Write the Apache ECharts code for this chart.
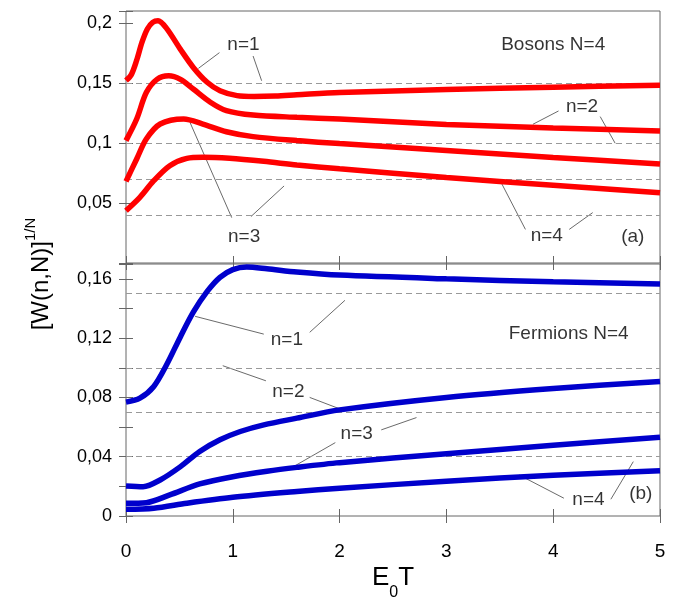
<!DOCTYPE html>
<html>
<head>
<meta charset="utf-8">
<script src="https://cdn.jsdelivr.net/npm/echarts@6/dist/echarts.min.js"></script>
<style>
  html, body { margin: 0; padding: 0; background: #fff; }
  #chart { width: 692px; height: 597px; }
</style>
</head>
<body>
<div id="chart"></div>
<script>
// x ticks (shared)
var xTickValues = [0, 1, 2, 3, 4, 5];
var xTickLabels = ['0', '1', '2', '3', '4', '5'];

// y ticks
var topTickValues = [0.05, 0.1, 0.15, 0.2];
var topTickLabels = ['0,05', '0,1', '0,15', '0,2'];
var bottomTickValues = [0, 0.04, 0.08, 0.12, 0.16];
var bottomTickLabels = ['0', '0,04', '0,08', '0,12', '0,16'];

// (a) bosons, [E0T, W^(1/N)]
var bosonN1 = [[0, 0.152], [0.05, 0.157], [0.1, 0.169], [0.15, 0.184], [0.2, 0.195], [0.25, 0.2005], [0.3, 0.2018], [0.38, 0.1955], [0.51, 0.178], [0.63, 0.163], [0.76, 0.1506], [0.88, 0.1436], [1.04, 0.1395], [1.2, 0.1388], [1.4, 0.1392], [1.6, 0.1402], [2, 0.1421], [3, 0.1445], [4, 0.1465], [5, 0.1482]];
var bosonN2 = [[0, 0.102], [0.1, 0.12], [0.19, 0.142], [0.29, 0.153], [0.4, 0.156], [0.51, 0.153], [0.63, 0.145], [0.79, 0.134], [0.94, 0.127], [1.19, 0.1233], [1.6, 0.1214], [2, 0.120], [3, 0.1155], [4, 0.1125], [5, 0.110]];
var bosonN3 = [[0, 0.068], [0.1, 0.0867], [0.19, 0.1033], [0.32, 0.1158], [0.54, 0.120], [0.72, 0.1158], [0.94, 0.1094], [1.19, 0.1053], [1.6, 0.102], [2, 0.0995], [3, 0.0937], [4, 0.088], [5, 0.0825]];
var bosonN4 = [[0, 0.0436], [0.13, 0.0547], [0.26, 0.0686], [0.41, 0.0811], [0.57, 0.0872], [0.72, 0.0881], [0.97, 0.0872], [1.29, 0.0847], [1.6, 0.0817], [2, 0.0785], [3, 0.0712], [4, 0.0648], [5, 0.0586]];

// (b) fermions
var fermionN1 = [[0, 0.0768], [0.13, 0.0795], [0.26, 0.0874], [0.38, 0.102], [0.51, 0.121], [0.63, 0.1375], [0.76, 0.1515], [0.88, 0.161], [1.0, 0.1662], [1.13, 0.168], [1.32, 0.1668], [1.6, 0.1646], [2, 0.1625], [3, 0.160], [4, 0.158], [5, 0.1565]];
var fermionN2 = [[0, 0.0203], [0.16, 0.0198], [0.32, 0.0243], [0.51, 0.0333], [0.69, 0.0435], [0.88, 0.0514], [1.07, 0.057], [1.29, 0.0615], [1.6, 0.066], [2, 0.0716], [3, 0.080], [4, 0.086], [5, 0.0908]];
var fermionN3 = [[0, 0.0086], [0.19, 0.009], [0.41, 0.0142], [0.69, 0.0216], [1.0, 0.0265], [1.32, 0.0302], [1.6, 0.0328], [2, 0.036], [3, 0.042], [4, 0.0477], [5, 0.0532]];
var fermionN4 = [[0, 0.0045], [0.26, 0.0052], [0.57, 0.0086], [1.0, 0.0126], [1.6, 0.0165], [2, 0.0187], [3, 0.0235], [4, 0.0275], [5, 0.0306]];

// dashed reference levels
var topDashed = [0.15, 0.1, 0.0667, 0.0437];
var bottomDashed = [0.149, 0.1, 0.068, 0.041];

// curve labels and their leader lines (data coords)
var labelTexts = ['n=1', 'n=2', 'n=3', 'n=4'];
var topLabelPos = [[1.10, 0.1817], [4.27, 0.1306], [1.106, 0.022], [3.94, 0.0231]];
var topLeaders = [
  [[0.875, 0.1753], [0.678, 0.1622]], [[1.19, 0.1725], [1.27, 0.1519]],
  [[4.05, 0.1267], [3.81, 0.1156]], [[4.44, 0.122], [4.58, 0.0998]],
  [[0.99, 0.0378], [0.60, 0.117]], [[1.17, 0.0387], [1.48, 0.0642]],
  [[3.74, 0.028], [3.51, 0.0675]], [[4.15, 0.028], [4.37, 0.042]]
];
var bottomLabelPos = [[1.506, 0.1189], [1.52, 0.0836], [2.16, 0.0554], [4.33, 0.0108]];
var bottomLeaders = [
  [[1.29, 0.1227], [0.647, 0.1347]], [[1.72, 0.1239], [2.05, 0.1455]],
  [[1.31, 0.0912], [0.906, 0.1014]], [[1.72, 0.080], [2.0, 0.0723]],
  [[1.96, 0.0495], [1.58, 0.0338]], [[2.39, 0.0581], [2.72, 0.0664]],
  [[4.10, 0.012], [3.68, 0.0277]], [[4.54, 0.0113], [4.75, 0.0367]]
];
var topNotes = [['Bosons N=4', 4.0, 0.1817], ['(a)', 4.745, 0.022]];
var bottomNotes = [['Fermions N=4', 4.145, 0.123], ['(b)', 4.82, 0.0149]];

var chart = echarts.init(document.getElementById('chart'), null, { renderer: 'canvas' });
var font = '"Liberation Sans", Arial, Helvetica, sans-serif';
var frame = '#666', dash = '#999', leader = '#444';
var red = '#ff0000', blue = '#0000cc';

function pickLabel(values, labels) {
  return function(v) {
    for (var i = 0; i < values.length; i++) {
      if (Math.abs(values[i] - v) < 1e-6) return labels[i];
    }
    return '';
  };
}

function xAxisFor(grid, pos, showLabels) {
  return {
    type: 'value', gridIndex: grid, position: pos, min: 0, max: 5, interval: 1,
    axisLine: { show: false },
    axisTick: { show: true, inside: true, length: 7, lineStyle: { color: frame } },
    axisLabel: { show: showLabels, margin: 26, fontSize: 19, color: '#000', fontFamily: font,
      formatter: pickLabel(xTickValues, xTickLabels) },
    splitLine: { show: false }
  };
}

function yAxisFor(grid, pos, max, interval, showLabels, values, labels) {
  return {
    type: 'value', gridIndex: grid, position: pos, min: 0, max: max, interval: interval,
    axisLine: { show: false },
    axisTick: { show: true, inside: true, length: 7, lineStyle: { color: frame } },
    axisLabel: { show: showLabels, margin: 14, fontSize: 18, color: '#000', fontFamily: font,
      formatter: pickLabel(values, labels) },
    splitLine: { show: false }
  };
}

function curve(data, grid, color) {
  return {
    type: 'line', xAxisIndex: grid * 2, yAxisIndex: grid * 2, data: data,
    smooth: 0.3, symbol: 'none', clip: false, z: 5,
    lineStyle: { color: color, width: 5.5 }
  };
}

function leaderSeries(list, grid) {
  return list.map(function(seg) {
    return {
      type: 'line', xAxisIndex: grid * 2, yAxisIndex: grid * 2, data: seg,
      symbol: 'none', silent: true, z: 3,
      lineStyle: { color: leader, width: 0.8 }
    };
  });
}

function textSeries(items, grid, size) {
  return {
    type: 'scatter', xAxisIndex: grid * 2, yAxisIndex: grid * 2, symbolSize: 0, z: 6,
    data: items.map(function(it) { return { name: it[0], value: [it[1], it[2]] }; }),
    label: { show: true, position: 'inside', formatter: '{b}', color: '#000', fontSize: size, fontFamily: font }
  };
}

function dashedSeries(levels, grid) {
  return {
    type: 'line', xAxisIndex: grid * 2, yAxisIndex: grid * 2, data: [], z: 2,
    markLine: {
      silent: true, symbol: 'none', label: { show: false },
      lineStyle: { color: dash, type: [6, 4], width: 1 },
      data: levels.map(function(v) { return { yAxis: v }; })
    }
  };
}

var topLabelItems = labelTexts.map(function(t, i) { return [t, topLabelPos[i][0], topLabelPos[i][1]]; });
var bottomLabelItems = labelTexts.map(function(t, i) { return [t, bottomLabelPos[i][0], bottomLabelPos[i][1]]; });

var series = [
  dashedSeries(topDashed, 0),
  dashedSeries(bottomDashed, 1),
  curve(bosonN1, 0, red), curve(bosonN2, 0, red), curve(bosonN3, 0, red), curve(bosonN4, 0, red),
  curve(fermionN1, 1, blue), curve(fermionN2, 1, blue), curve(fermionN3, 1, blue), curve(fermionN4, 1, blue),
  textSeries(topLabelItems, 0, 19), textSeries(bottomLabelItems, 1, 19),
  textSeries(topNotes, 0, 19), textSeries(bottomNotes, 1, 19)
].concat(leaderSeries(topLeaders, 0), leaderSeries(bottomLeaders, 1));

chart.setOption({
  animation: false,
  backgroundColor: '#fff',
  grid: [
    { left: 126, right: 32, top: 11, height: 252, show: true, borderColor: frame, borderWidth: 1 },
    { left: 126, right: 32, top: 264, height: 252, show: true, borderColor: frame, borderWidth: 1 }
  ],
  xAxis: [
    xAxisFor(0, 'bottom', false), xAxisFor(0, 'top', false),
    xAxisFor(1, 'bottom', true), xAxisFor(1, 'top', false)
  ],
  yAxis: [
    yAxisFor(0, 'left', 0.21, 0.05, true, topTickValues, topTickLabels),
    yAxisFor(0, 'right', 0.21, 0.05, false, topTickValues, topTickLabels),
    yAxisFor(1, 'left', 0.17, 0.02, true, bottomTickValues, bottomTickLabels),
    yAxisFor(1, 'right', 0.17, 0.02, false, bottomTickValues, bottomTickLabels)
  ],
  graphic: [
    {
      type: 'text', x: 38, y: 274, rotation: Math.PI / 2,
      style: {
        text: '{m|[W(n,N)]}{s|1/N}',
        align: 'center', verticalAlign: 'middle',
        rich: {
          m: { fontSize: 24, fontFamily: font, fill: '#000', lineHeight: 30, verticalAlign: 'bottom' },
          s: { fontSize: 15, fontFamily: font, fill: '#000', lineHeight: 30, verticalAlign: 'top' }
        }
      }
    },
    {
      type: 'text', x: 393, y: 583,
      style: {
        text: '{m|E}{s|0}{m|T}',
        align: 'center', verticalAlign: 'middle',
        rich: {
          m: { fontSize: 26, fontFamily: font, fill: '#000', lineHeight: 36, verticalAlign: 'top' },
          s: { fontSize: 16, fontFamily: font, fill: '#000', lineHeight: 36, verticalAlign: 'bottom' }
        }
      }
    }
  ],
  series: series
});
</script>
</body>
</html>
